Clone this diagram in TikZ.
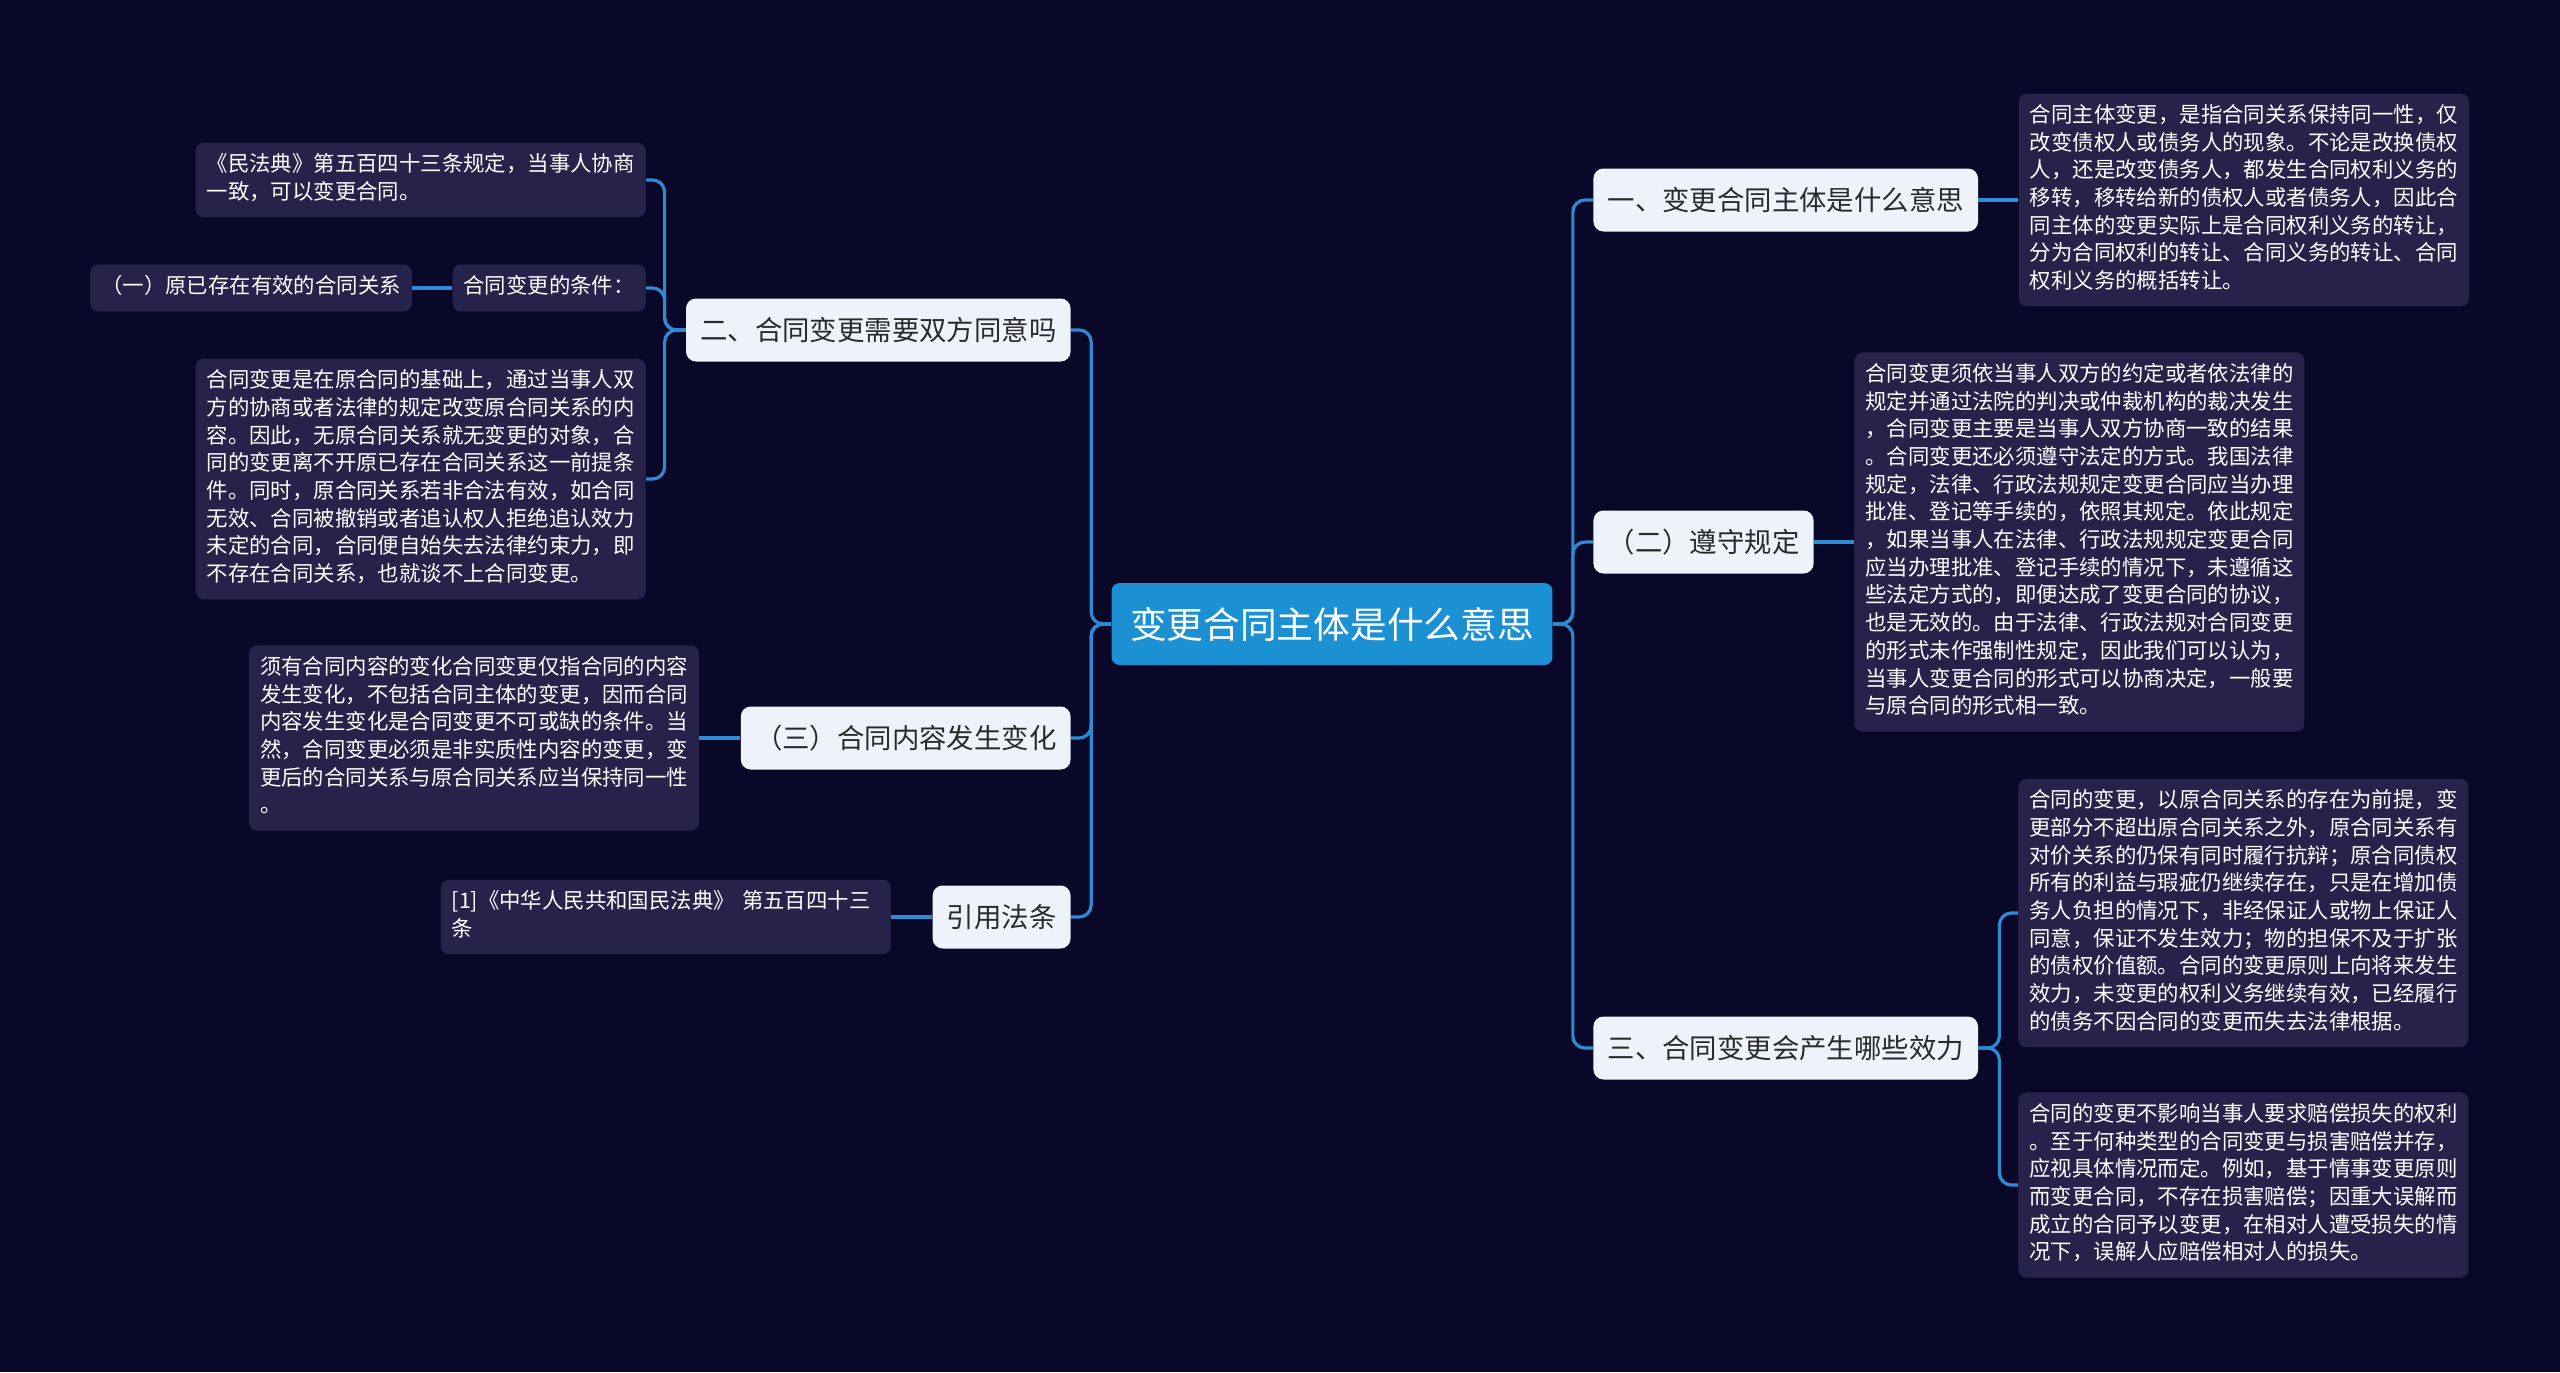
\documentclass[tikz,border=0pt]{standalone}
\usepackage{fontspec}
\setmainfont{Noto Sans CJK SC}
\usepackage{tikz}
\usetikzlibrary{positioning}
\usepackage{xcolor}
\definecolor{pagebg}{HTML}{0A0828}
\definecolor{memobg}{HTML}{26224A}
\definecolor{linkblue}{HTML}{2E8AD4}
\definecolor{topicblue}{HTML}{1B90D2}
\definecolor{subbg}{HTML}{EEF3FB}
\definecolor{subtext}{HTML}{2A2A2A}

\begin{document}
\begin{tikzpicture}[x=0.5pt, y=-0.5pt, every node/.style={font=\fontsize{10.7}{13.85}\selectfont}]
\tikzset{topic/.style={fill=topicblue, text=white, rounded corners=4pt, minimum height=41pt, inner xsep=9.3pt, font=\fontsize{18.35}{22}\selectfont}}
\tikzset{sub/.style={fill=subbg, text=subtext, rounded corners=5pt, minimum height=31.5pt, inner xsep=7.1pt, font=\fontsize{13.7}{16}\selectfont}}
\tikzset{memo/.style={fill=memobg, text=white, rounded corners=4pt, align=left, text width=214pt, inner xsep=5.5pt, inner ysep=4.75pt, execute at begin node=\strut, execute at end node=\strut}}
\tikzset{tag/.style={fill=memobg, text=white, rounded corners=4pt, inner xsep=5.45pt, inner ysep=4.75pt, execute at begin node=\strut}}
\tikzset{link/.style={draw=linkblue, line width=1.6pt, rounded corners=6pt}}
\fill[pagebg] (0,0) rectangle (2560,1372);
\node[topic] (root) at (1332,624) {变更合同主体是什么意思};
% right side
\node[sub, anchor=west] (q1) at (1593,200) {一、变更合同主体是什么意思};
\node[sub, anchor=west] (q2) at (1593,542) {（二）遵守规定};
\node[sub, anchor=west] (q3) at (1593,1048) {三、合同变更会产生哪些效力};
\node[memo, right=20pt of q1] (t1) {合同主体变更，是指合同关系保持同一性，仅\\改变债权人或债务人的现象。不论是改换债权\\人，还是改变债务人，都发生合同权利义务的\\移转，移转给新的债权人或者债务人，因此合\\同主体的变更实际上是合同权利义务的转让，\\分为合同权利的转让、合同义务的转让、合同\\权利义务的概括转让。};
\node[memo, right=20pt of q2] (t2) {合同变更须依当事人双方的约定或者依法律的\\规定并通过法院的判决或仲裁机构的裁决发生\\，合同变更主要是当事人双方协商一致的结果\\。合同变更还必须遵守法定的方式。我国法律\\规定，法律、行政法规规定变更合同应当办理\\批准、登记等手续的，依照其规定。依此规定\\，如果当事人在法律、行政法规规定变更合同\\应当办理批准、登记手续的情况下，未遵循这\\些法定方式的，即便达成了变更合同的协议，\\也是无效的。由于法律、行政法规对合同变更\\的形式未作强制性规定，因此我们可以认为，\\当事人变更合同的形式可以协商决定，一般要\\与原合同的形式相一致。};
\node[memo, anchor=west] (t3a) at (2018,913) {合同的变更，以原合同关系的存在为前提，变\\更部分不超出原合同关系之外，原合同关系有\\对价关系的仍保有同时履行抗辩；原合同债权\\所有的利益与瑕疵仍继续存在，只是在增加债\\务人负担的情况下，非经保证人或物上保证人\\同意，保证不发生效力；物的担保不及于扩张\\的债权价值额。合同的变更原则上向将来发生\\效力，未变更的权利义务继续有效，已经履行\\的债务不因合同的变更而失去法律根据。};
\node[memo, anchor=west] (t3b) at (2018,1185) {合同的变更不影响当事人要求赔偿损失的权利\\。至于何种类型的合同变更与损害赔偿并存，\\应视具体情况而定。例如，基于情事变更原则\\而变更合同，不存在损害赔偿；因重大误解而\\成立的合同予以变更，在相对人遭受损失的情\\况下，误解人应赔偿相对人的损失。};
% left side
\node[sub, anchor=east] (q4) at (1071,330) {二、合同变更需要双方同意吗};
\node[sub, anchor=east] (q5) at (1071,738) {（三）合同内容发生变化};
\node[sub, anchor=east] (q6) at (1071,917) {引用法条};
\node[memo, anchor=east] (l1) at (646,180) {《民法典》第五百四十三条规定，当事人协商\\一致，可以变更合同。};
\node[tag, anchor=east] (cond) at (646,288) {合同变更的条件：};
\node[tag, left=20pt of cond] (c1) {（一）原已存在有效的合同关系};
\node[memo, anchor=east] (l3) at (646,479) {合同变更是在原合同的基础上，通过当事人双\\方的协商或者法律的规定改变原合同关系的内\\容。因此，无原合同关系就无变更的对象，合\\同的变更离不开原已存在合同关系这一前提条\\件。同时，原合同关系若非合法有效，如合同\\无效、合同被撤销或者追认权人拒绝追认效力\\未定的合同，合同便自始失去法律约束力，即\\不存在合同关系，也就谈不上合同变更。};
\node[memo, left=20.5pt of q5] (l4) {须有合同内容的变化合同变更仅指合同的内容\\发生变化，不包括合同主体的变更，因而合同\\内容发生变化是合同变更不可或缺的条件。当\\然，合同变更必须是非实质性内容的变更，变\\更后的合同关系与原合同关系应当保持同一性\\。};
\node[memo, left=20.5pt of q6] (l5) {[1]《中华人民共和国民法典》 第五百四十三\\条};
% connectors
\draw[link] (root.east) -- ++(20,0) |- (q1.west);
\draw[link] (root.east) -- ++(20,0) |- (q2.west);
\draw[link] (root.east) -- ++(20,0) |- (q3.west);
\draw[link] (root.west) -- ++(-20,0) |- (q4.east);
\draw[link] (root.west) -- ++(-20,0) |- (q5.east);
\draw[link] (root.west) -- ++(-20,0) |- (q6.east);
\draw[link] (q1.east) -- (t1.west);
\draw[link] (q2.east) -- (t2.west);
\draw[link] (q3.east) -- ++(21,0) |- (t3a.west);
\draw[link] (q3.east) -- ++(21,0) |- (t3b.west);
\draw[link] (q4.west) -- ++(-21,0) |- (l1.east);
\draw[link] (q4.west) -- ++(-21,0) |- (cond.east);
\draw[link] (q4.west) -- ++(-21,0) |- (l3.east);
\draw[link] (cond.west) -- (c1.east);
\draw[link] (q5.west) -- (l4.east);
\draw[link] (q6.west) -- (l5.east);
\end{tikzpicture}
\end{document}
